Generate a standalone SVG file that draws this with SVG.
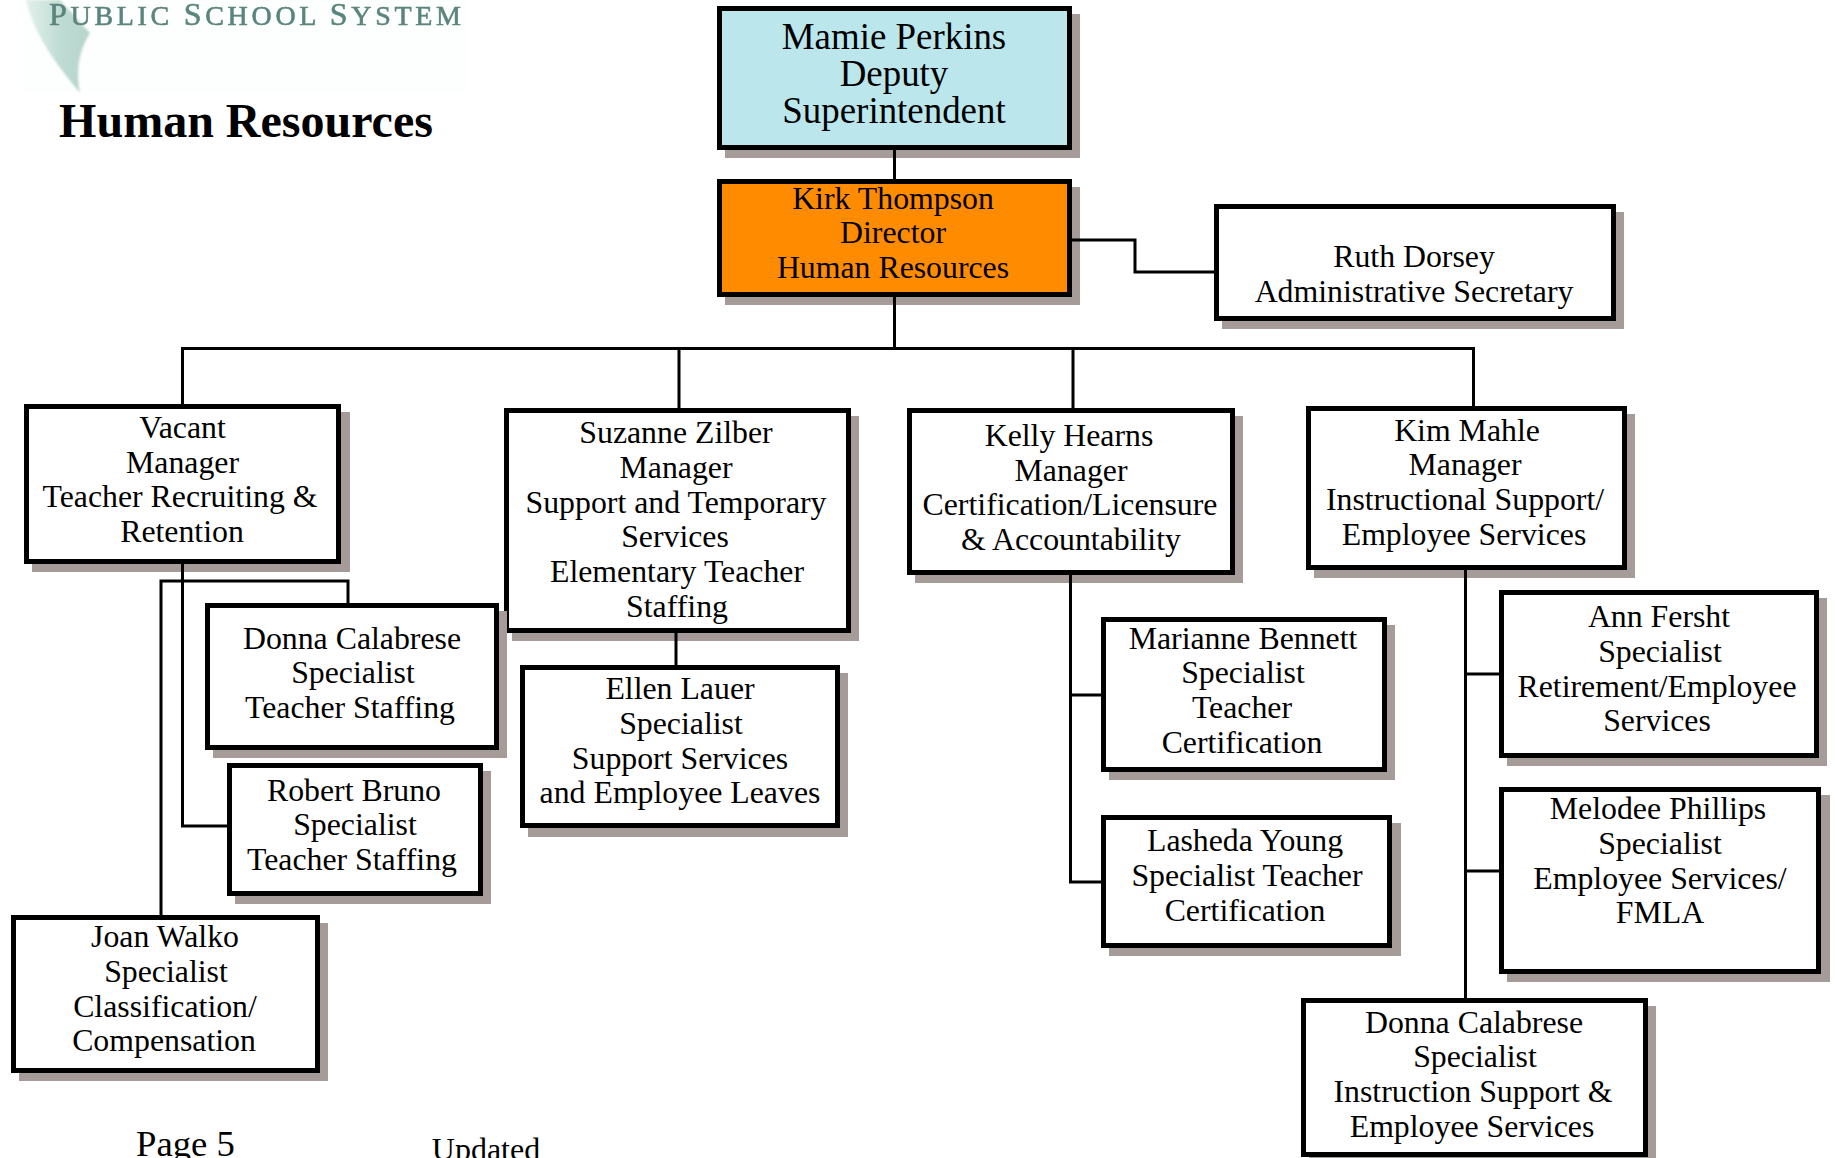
<svg xmlns="http://www.w3.org/2000/svg" width="1835" height="1158" viewBox="0 0 1835 1158">
<style>
.t{font-family:"Liberation Serif","Times New Roman",serif;font-size:31.800px;fill:#000;text-anchor:middle}
.b{fill:#fff;stroke:#000;stroke-width:5}
.s{fill:#a59b99}
.c{fill:none;stroke:#000;stroke-width:3}
</style>
<defs>
<linearGradient id="sw" x1="0" y1="0" x2="1" y2="0"><stop offset="0" stop-color="#e2f0ec"/><stop offset="0.6" stop-color="#bcdad1"/><stop offset="1" stop-color="#b8d6cd"/></linearGradient>
<filter id="bl" x="-5%" y="-20%" width="110%" height="140%"><feGaussianBlur stdDeviation="0.7"/></filter>
<filter id="bl2" x="-20%" y="-5%" width="140%" height="110%"><feGaussianBlur stdDeviation="1"/></filter>
</defs>
<g id="logo">
<rect x="24" y="0" width="443" height="93" fill="#fdfefe"/>
<path d="M26,0C36,40 60,68 80,93C76,72 78,52 90,33L60,0Z" fill="url(#sw)" filter="url(#bl2)"/>
<text x="49" y="25" filter="url(#bl)" stroke="#5a857c" stroke-width="0.6" style="font-family:'Liberation Serif',serif;font-size:32px;fill:#5a857c;letter-spacing:3.700px"><tspan>P</tspan><tspan font-size="28">UBLIC </tspan><tspan>S</tspan><tspan font-size="28">CHOOL </tspan><tspan>S</tspan><tspan font-size="28">YSTEM</tspan></text>
</g>
<text id="title" x="246" y="137" style="font-family:'Liberation Serif',serif;font-size:48px;font-weight:bold;text-anchor:middle">Human Resources</text>
<g id="n-perkins"><rect class="s" x="725" y="14" width="355" height="144"/><rect x="719.500" y="8.500" width="350" height="139" fill="#bae6ec" stroke="#000" stroke-width="5"/><text class="t" style="font-size:36.900px"><tspan x="894" y="49">Mamie Perkins</tspan><tspan x="894" y="86">Deputy</tspan><tspan x="894" y="123">Superintendent</tspan></text></g>
<g id="n-thompson"><rect class="s" x="725" y="187" width="355" height="118"/><rect x="719.500" y="181.500" width="350" height="113" fill="#ff8c00" stroke="#000" stroke-width="5"/><text class="t"><tspan x="893" y="209">Kirk Thompson</tspan><tspan x="893" y="243">Director</tspan><tspan x="893" y="278">Human Resources</tspan></text></g>
<g id="n-dorsey"><rect class="s" x="1222" y="212" width="402" height="117"/><rect class="b" x="1216.500" y="206.500" width="397" height="112"/><text class="t"><tspan x="1414" y="267">Ruth Dorsey</tspan><tspan x="1414" y="302">Administrative Secretary</tspan></text></g>
<g id="n-vacant"><rect class="s" x="32" y="412" width="318" height="160"/><rect class="b" x="26.500" y="406.500" width="312" height="155"/><text class="t"><tspan x="182.500" y="438">Vacant</tspan><tspan x="182.500" y="473">Manager</tspan><tspan x="180" y="507">Teacher Recruiting &amp;</tspan><tspan x="182" y="542">Retention</tspan></text></g>
<g id="n-zilber"><rect class="s" x="512" y="416" width="347" height="225"/><rect class="b" x="506.500" y="410.500" width="342" height="220"/><text class="t"><tspan x="676" y="443">Suzanne Zilber</tspan><tspan x="676" y="478">Manager</tspan><tspan x="676" y="513">Support and Temporary</tspan><tspan x="675" y="547">Services</tspan><tspan x="677" y="582">Elementary Teacher</tspan><tspan x="677" y="617">Staffing</tspan></text></g>
<g id="n-hearns"><rect class="s" x="915" y="416" width="328" height="167"/><rect class="b" x="909.500" y="410.500" width="323" height="162"/><text class="t"><tspan x="1069" y="446">Kelly Hearns</tspan><tspan x="1071" y="481">Manager</tspan><tspan x="1070" y="515">Certification/Licensure</tspan><tspan x="1071" y="550">&amp; Accountability</tspan></text></g>
<g id="n-mahle"><rect class="s" x="1314" y="414" width="321" height="164"/><rect class="b" x="1308.500" y="408.500" width="316" height="159"/><text class="t"><tspan x="1467" y="441">Kim Mahle</tspan><tspan x="1465" y="475">Manager</tspan><tspan x="1465" y="510">Instructional Support/</tspan><tspan x="1464" y="545">Employee Services</tspan></text></g>
<g id="n-calabrese1"><rect class="s" x="213" y="611" width="294" height="147"/><rect class="b" x="207.500" y="605.500" width="289" height="142"/><text class="t"><tspan x="352" y="649">Donna Calabrese</tspan><tspan x="353" y="683">Specialist</tspan><tspan x="350" y="718">Teacher Staffing</tspan></text></g>
<g id="n-bruno"><rect class="s" x="235" y="771" width="256" height="133"/><rect class="b" x="229.500" y="765.500" width="251" height="128"/><text class="t"><tspan x="354" y="801">Robert Bruno</tspan><tspan x="355" y="835">Specialist</tspan><tspan x="352" y="870">Teacher Staffing</tspan></text></g>
<g id="n-walko"><rect class="s" x="19" y="923" width="309" height="158"/><rect class="b" x="13.500" y="917.500" width="304" height="153"/><text class="t"><tspan x="165" y="947">Joan Walko</tspan><tspan x="166" y="982">Specialist</tspan><tspan x="165" y="1017">Classification/</tspan><tspan x="164" y="1051">Compensation</tspan></text></g>
<g id="n-lauer"><rect class="s" x="528" y="673" width="320" height="164"/><rect class="b" x="522.500" y="667.500" width="315" height="158"/><text class="t"><tspan x="680" y="699">Ellen Lauer</tspan><tspan x="681" y="734">Specialist</tspan><tspan x="680" y="769">Support Services</tspan><tspan x="680" y="803">and Employee Leaves</tspan></text></g>
<g id="n-bennett"><rect class="s" x="1109" y="625" width="286" height="155"/><rect class="b" x="1103.500" y="619.500" width="281" height="150"/><text class="t"><tspan x="1243" y="649">Marianne Bennett</tspan><tspan x="1243" y="683">Specialist</tspan><tspan x="1242" y="718">Teacher</tspan><tspan x="1242" y="753">Certification</tspan></text></g>
<g id="n-young"><rect class="s" x="1109" y="823" width="292" height="133"/><rect class="b" x="1103.500" y="817.500" width="286" height="128"/><text class="t"><tspan x="1245" y="851">Lasheda Young</tspan><tspan x="1247" y="886">Specialist Teacher</tspan><tspan x="1245" y="921">Certification</tspan></text></g>
<g id="n-fersht"><rect class="s" x="1507" y="598" width="320" height="168"/><rect class="b" x="1501.500" y="592.500" width="315" height="163"/><text class="t"><tspan x="1659" y="627">Ann Fersht</tspan><tspan x="1660" y="662">Specialist</tspan><tspan x="1657" y="697">Retirement/Employee</tspan><tspan x="1657" y="731">Services</tspan></text></g>
<g id="n-phillips"><rect class="s" x="1507" y="795" width="323" height="187"/><rect class="b" x="1501.500" y="789.500" width="317" height="182"/><text class="t"><tspan x="1658" y="819">Melodee Phillips</tspan><tspan x="1660" y="854">Specialist</tspan><tspan x="1660" y="889">Employee Services/</tspan><tspan x="1660" y="923">FMLA</tspan></text></g>
<g id="n-calabrese2"><rect class="s" x="1309" y="1006" width="347" height="152"/><rect class="b" x="1303.500" y="1000.500" width="342" height="154"/><text class="t"><tspan x="1474" y="1033">Donna Calabrese</tspan><tspan x="1475" y="1067">Specialist</tspan><tspan x="1473" y="1102">Instruction Support &amp;</tspan><tspan x="1472" y="1137">Employee Services</tspan></text></g>
<g id="connectors">
<path class="c" d="M894.500,150V179M894.500,297V348.500M182.500,404V348.500H1473.500V406M679,348.500V408M1073,348.500V408M1072,240H1135V272H1214"/>
<path class="c" d="M182.500,564V826H227M161,915V581H348V603M676,633V665M1070.500,575V882H1101M1070.500,695H1101M1465.500,570V998M1465.500,674H1499M1465.500,871H1499"/>
</g>
<text class="t" x="185.500" y="1156" style="font-size:36.700px">Page 5</text>
<text class="t" x="486" y="1160" style="font-size:32px">Updated</text>
</svg>
